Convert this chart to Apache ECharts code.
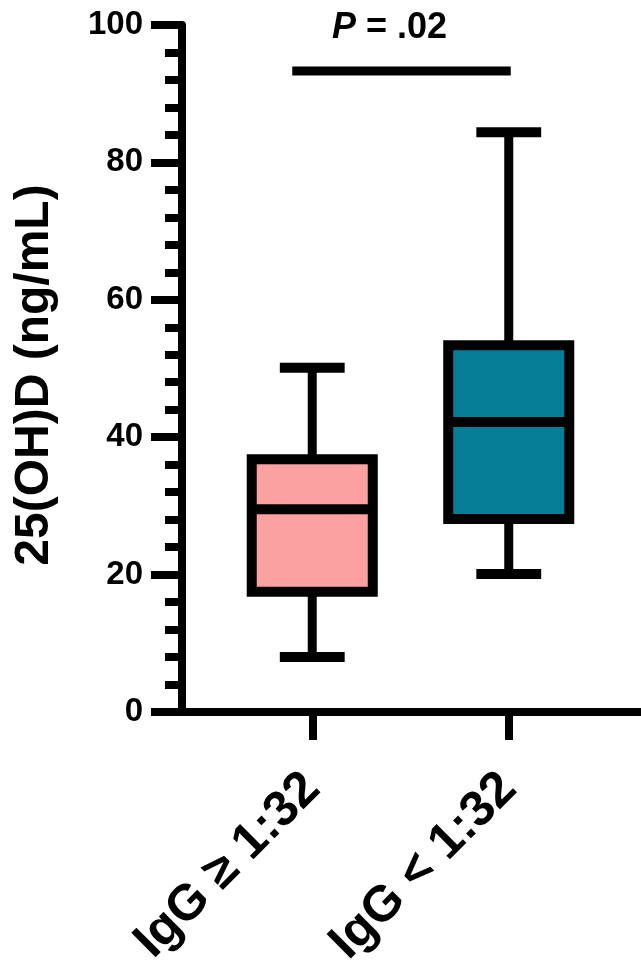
<!DOCTYPE html>
<html>
<head>
<meta charset="utf-8">
<script src="https://cdn.jsdelivr.net/npm/echarts@6/dist/echarts.min.js"></script>
<style>
html,body{margin:0;padding:0;background:#fff;}
#chart{width:641px;height:963px;}
</style>
</head>
<body>
<div id="chart"></div>
<script>
// ---- data ----
const categories = ['IgG \u2265 1:32', 'IgG < 1:32'];
const whiskerLow  = [8.0, 20.1];
const q1          = [17.5, 28.1];
const median      = [29.5, 42.2];
const q3          = [36.8, 53.4];
const whiskerHigh = [50.1, 84.4];
const boxColors   = ['#FBA1A1', '#077E97'];
const yTicks      = [0, 20, 40, 60, 80, 100];
const yTitle      = '25(OH)D (ng/mL)';
const sigBarValue = 93.3;
const pLabel      = 'P = .02';

const FONT = '"Liberation Sans", Arial, Helvetica, sans-serif';

const boxData = categories.map((c, i) => [i, whiskerLow[i], q1[i], median[i], q3[i], whiskerHigh[i]]);

function renderBox(params, api) {
  const i = api.value(0);
  const band = api.size([1, 0])[0];
  const bw = band * 0.616;
  const cw = band * 0.33;
  const lo = api.coord([i, api.value(1)]);
  const p1 = api.coord([i, api.value(2)]);
  const md = api.coord([i, api.value(3)]);
  const p3 = api.coord([i, api.value(4)]);
  const hi = api.coord([i, api.value(5)]);
  const cx = lo[0];
  const blk = '#000';
  return {
    type: 'group',
    children: [
      { type: 'line', shape: { x1: cx, y1: p3[1], x2: cx, y2: hi[1] }, style: { stroke: blk, lineWidth: 9 } },
      { type: 'line', shape: { x1: cx, y1: p1[1], x2: cx, y2: lo[1] }, style: { stroke: blk, lineWidth: 9 } },
      { type: 'rect', shape: { x: cx - bw / 2, y: p3[1], width: bw, height: p1[1] - p3[1] },
        style: { fill: boxColors[params.dataIndex], stroke: blk, lineWidth: 10, lineJoin: 'miter' } },
      { type: 'line', shape: { x1: cx - bw / 2, y1: md[1], x2: cx + bw / 2, y2: md[1] }, style: { stroke: blk, lineWidth: 10 } },
      { type: 'line', shape: { x1: cx - cw / 2, y1: hi[1], x2: cx + cw / 2, y2: hi[1] }, style: { stroke: blk, lineWidth: 10 } },
      { type: 'line', shape: { x1: cx - cw / 2, y1: lo[1], x2: cx + cw / 2, y2: lo[1] }, style: { stroke: blk, lineWidth: 10 } }
    ]
  };
}

function renderSig(params, api) {
  const a = api.coord([0, api.value(1)]);
  const b = api.coord([1, api.value(1)]);
  const x1 = a[0] - 20, x2 = b[0] + 2;
  const mid = (x1 + x2) / 2;
  return {
    type: 'group',
    children: [
      { type: 'line', shape: { x1: x1, y1: a[1], x2: x2, y2: a[1] }, style: { stroke: '#000', lineWidth: 9 } },
      { type: 'text', x: mid - 12, y: a[1] - 43,
        style: {
          text: '{it|P} = .02',
          fontFamily: FONT, fontSize: 36, fontWeight: 'bold', fill: '#000',
          align: 'center', verticalAlign: 'middle',
          rich: { it: { fontStyle: 'italic', fontFamily: FONT, fontSize: 36, fontWeight: 'bold', fill: '#000' } }
        } }
    ]
  };
}

const chart = echarts.init(document.getElementById('chart'), null, { renderer: 'canvas' });
chart.setOption({
  animation: false,
  backgroundColor: '#fff',
  textStyle: { fontFamily: FONT },
  grid: [
    { left: 182, right: 0, top: 25, bottom: 251, containLabel: false, outerBoundsMode: 'none' },
    { left: 214, right: 34, top: 25, bottom: 251, containLabel: false, outerBoundsMode: 'none' }
  ],
  xAxis: [
    { type: 'value', gridIndex: 0, min: 0, max: 1,
      axisLine: { show: true, lineStyle: { color: '#000', width: 8 } },
      axisTick: { show: false }, axisLabel: { show: false }, splitLine: { show: false } },
    { type: 'category', gridIndex: 1, data: categories,
      axisLine: { show: true, lineStyle: { color: '#000', width: 8 } },
      axisTick: { show: true, alignWithLabel: true, length: 28, lineStyle: { color: '#000', width: 8 } },
      axisLabel: { rotate: 45, margin: 69, color: '#000', fontSize: 50, fontWeight: 'bold', fontFamily: FONT },
      splitLine: { show: false } }
  ],
  yAxis: [
    { type: 'value', gridIndex: 0, min: 0, max: 100, interval: 20,
      axisLine: { show: true, lineStyle: { color: '#000', width: 8 } },
      axisTick: { show: true, length: 31, lineStyle: { color: '#000', width: 8 } },
      minorTick: { show: true, splitNumber: 5, length: 17, lineStyle: { color: '#000', width: 8 } },
      axisLabel: { margin: 39, color: '#000', fontSize: 33, fontWeight: 'bold', fontFamily: FONT,
        formatter: v => (yTicks.indexOf(v) >= 0 ? String(v) : '') },
      splitLine: { show: false }, minorSplitLine: { show: false } },
    { type: 'value', gridIndex: 1, min: 0, max: 100, show: false }
  ],
  graphic: [
    { type: 'text', x: 35, y: 375, rotation: Math.PI / 2,
      style: { text: yTitle, fontFamily: FONT, fontSize: 48, fontWeight: 'bold', fill: '#000',
        align: 'center', verticalAlign: 'middle' } }
  ],
  series: [
    { type: 'custom', xAxisIndex: 1, yAxisIndex: 1, data: boxData, renderItem: renderBox, clip: false,
      encode: { x: 0, y: [1, 2, 3, 4, 5] } },
    { type: 'custom', xAxisIndex: 1, yAxisIndex: 1, data: [[0, sigBarValue]], renderItem: renderSig, clip: false,
      encode: { x: 0, y: 1 } }
  ]
});
</script>
</body>
</html>
